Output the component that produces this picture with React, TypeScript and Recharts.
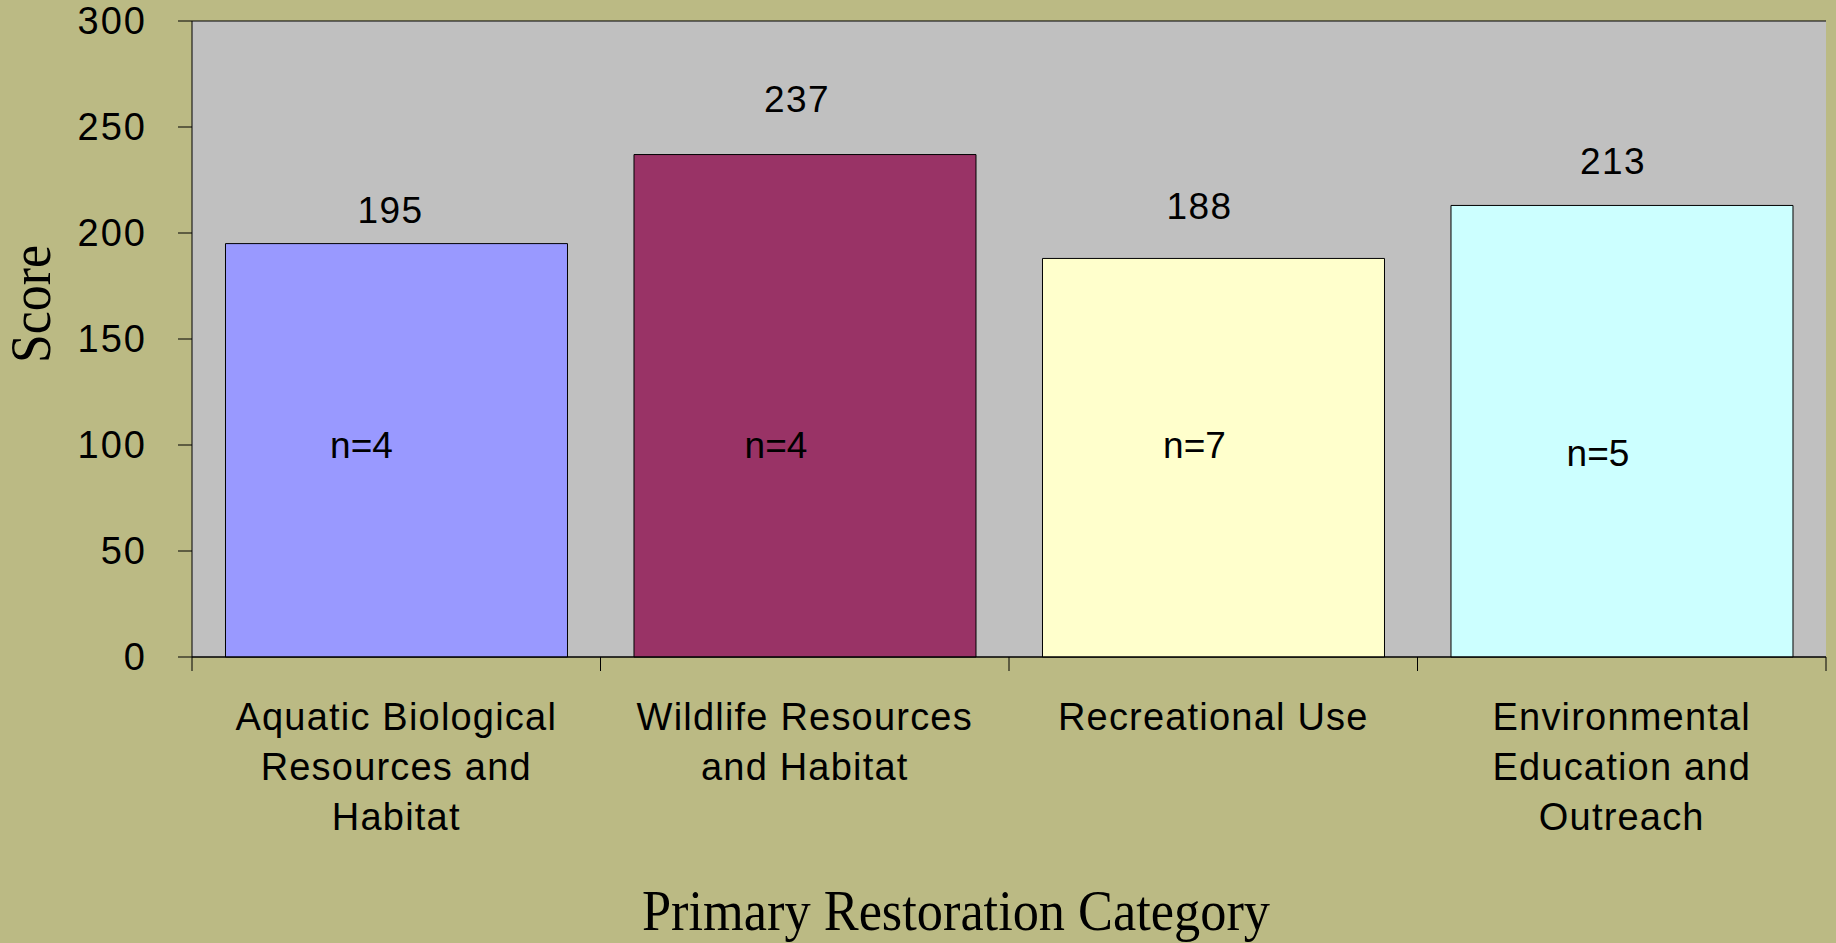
import React from 'react';
import { BarChart, Bar, XAxis, YAxis, CartesianGrid, Cell, LabelList, Label } from 'recharts';

// ---- data ----
const categories = [
  'Aquatic Biological Resources and Habitat',
  'Wildlife Resources and Habitat',
  'Recreational Use',
  'Environmental Education and Outreach',
];
const categoryTickLines = [
  ['Aquatic Biological', 'Resources and', 'Habitat'],
  ['Wildlife Resources', 'and Habitat'],
  ['Recreational Use'],
  ['Environmental', 'Education and', 'Outreach'],
];
const scores = [195, 237, 188, 213];
const sampleSizes = [4, 4, 7, 5];
const yTicks = [0, 50, 100, 150, 200, 250, 300];
const barColors = ['#9999FF', '#993366', '#FFFFCC', '#CCFFFF'];

const data = categories.map((c, i) => ({ category: c, score: scores[i], n: sampleSizes[i] }));

// ---- layout / style ----
const W = 1836;
const H = 943;
const MARGIN = { top: 21, right: 10, left: 0, bottom: 0 };
const Y_AXIS_W = 192;
const X_AXIS_H = 286;
const BAND = (W - MARGIN.right - Y_AXIS_W) / categories.length;
const BG = '#BBBA84';
const SANS = '"Liberation Sans", Arial, Helvetica, sans-serif';
const SERIF = '"Liberation Serif", "Times New Roman", Times, serif';

// annotation nudges (pixels) to mimic hand-placed labels
const VALUE_DX = [-6, -8, -14, -9];
const VALUE_LIFT = [21, 43, 39, 31];
const N_DX = [-35, -29, -19, -24];
const N_RAISE = [199, 199, 199, 191];

const XTick = (props: any) => {
  const { x, y, index } = props;
  const lines = categoryTickLines[index] || [];
  const half = BAND / 2;
  return (
    <g>
      <line x1={x - half} x2={x - half} y1={y} y2={y + 14} stroke="#000" strokeWidth={1} />
      {index === categories.length - 1 && (
        <line x1={x + half} x2={x + half} y1={y} y2={y + 14} stroke="#000" strokeWidth={1} />
      )}
      <text x={x} y={y + 73} textAnchor="middle" fill="#000" fontFamily={SANS} fontSize={38} letterSpacing={1.2}>
        {lines.map((l, i) => (
          <tspan key={i} x={x} dy={i === 0 ? 0 : 50}>{l}</tspan>
        ))}
      </text>
    </g>
  );
};

const ValueLabel = (props: any) => {
  const { x, y, width, index, value } = props;
  return (
    <text x={x + width / 2 + VALUE_DX[index]} y={y - VALUE_LIFT[index]} textAnchor="middle" fill="#000"
      fontFamily={SANS} fontSize={37} letterSpacing={1.5}>
      {value}
    </text>
  );
};

const NLabel = (props: any) => {
  const { x, y, width, height, index, value } = props;
  const bottom = y + height;
  return (
    <text x={x + width / 2 + N_DX[index]} y={bottom - N_RAISE[index]} textAnchor="middle" fill="#000"
      fontFamily={SANS} fontSize={37}>
      {`n=${value}`}
    </text>
  );
};

const ScoreTitle = (props: any) => {
  const vb = props.viewBox || { x: 0, y: 0, width: 0, height: 0 };
  const bx = vb.x + 50;
  const cy = vb.y + vb.height / 2 - 35;
  return (
    <text x={bx} y={cy} transform={`rotate(-90, ${bx}, ${cy})`} textAnchor="middle" fill="#000"
      fontFamily={SERIF} fontSize={56} textLength={118} lengthAdjust="spacingAndGlyphs">
      Score
    </text>
  );
};

const XTitle = (props: any) => {
  const vb = props.viewBox || { x: 0, y: 0, width: 0, height: 0 };
  return (
    <text x={vb.x + vb.width / 2 - 53} y={vb.y + 273} textAnchor="middle" fill="#000"
      fontFamily={SERIF} fontSize={56} textLength={628} lengthAdjust="spacingAndGlyphs">
      Primary Restoration Category
    </text>
  );
};

export default function App() {
  return (
    <div style={{ position: 'absolute', left: 0, top: 0, width: W, height: H, background: BG }}>
      <BarChart width={W} height={H} data={data} margin={MARGIN} barCategoryGap="8.2%">
        <CartesianGrid vertical={false} horizontal={true} stroke="#000" strokeWidth={1} fill="#C0C0C0" fillOpacity={1} />
        <XAxis
          dataKey="category"
          height={X_AXIS_H}
          interval={0}
          tickLine={false}
          tickSize={0}
          tickMargin={0}
          axisLine={{ stroke: '#000', strokeWidth: 1 }}
          tick={<XTick />}
        >
          <Label content={<XTitle />} />
        </XAxis>
        <YAxis
          yAxisId="left"
          width={Y_AXIS_W}
          domain={[0, 300]}
          ticks={yTicks}
          interval={0}
          tickSize={14}
          tickMargin={31}
          axisLine={{ stroke: '#000', strokeWidth: 1 }}
          tickLine={{ stroke: '#000', strokeWidth: 1 }}
          tick={{ fill: '#000', fontFamily: SANS, fontSize: 38, letterSpacing: 2 }}
        >
          <Label content={<ScoreTitle />} />
        </YAxis>
        <YAxis
          yAxisId="right"
          orientation="right"
          width={0}
          domain={[0, 300]}
          tick={false}
          tickLine={false}
          axisLine={{ stroke: '#808080', strokeWidth: 2 }}
        />
        <Bar dataKey="score" yAxisId="left" stroke="#000" strokeWidth={1} isAnimationActive={false}>
          {data.map((d, i) => (
            <Cell key={d.category} fill={barColors[i]} />
          ))}
          <LabelList dataKey="score" content={<ValueLabel />} />
          <LabelList dataKey="n" content={<NLabel />} />
        </Bar>
      </BarChart>
    </div>
  );
}
